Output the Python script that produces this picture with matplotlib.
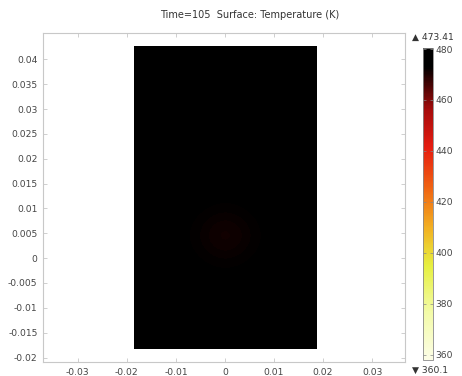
import numpy as np
import matplotlib
matplotlib.use('Agg')
import matplotlib.pyplot as plt
from matplotlib.colors import LinearSegmentedColormap

# surface temperature (K) on a coarse grid over the domain
# rows go bottom -> top, columns left -> right
temp_grid = [
    [473.4, 473.4, 473.4, 473.4, 473.4, 473.4, 473.4],
    [473.4, 473.4, 473.4, 473.4, 473.4, 473.4, 473.4],
    [473.4, 473.4, 473.4, 473.4, 473.4, 473.4, 473.4],
    [473.4, 473.4, 473.0, 472.4, 473.0, 473.4, 473.4],
    [473.4, 473.4, 472.2, 469.8, 472.2, 473.4, 473.4],
    [473.4, 473.4, 473.0, 472.4, 473.0, 473.4, 473.4],
    [473.4, 473.4, 473.4, 473.4, 473.4, 473.4, 473.4],
    [473.4, 473.4, 473.4, 473.4, 473.4, 473.4, 473.4],
    [473.4, 473.4, 473.4, 473.4, 473.4, 473.4, 473.4],
    [473.4, 473.4, 473.4, 473.4, 473.4, 473.4, 473.4],
    [473.4, 473.4, 473.4, 473.4, 473.4, 473.4, 473.4],
    [473.4, 473.4, 473.4, 473.4, 473.4, 473.4, 473.4],
]
domain_x = [-0.0186, 0.0186]
domain_y = [-0.0182, 0.0427]

t_max = '473.41'
t_min = '360.1'
cbar_ticks = [360, 380, 400, 420, 440, 460, 480]
x_ticks = [-0.03, -0.02, -0.01, 0, 0.01, 0.02, 0.03]
x_labels = ['-0.03', '-0.02', '-0.01', '0', '0.01', '0.02', '0.03']
y_ticks = [0.04, 0.035, 0.03, 0.025, 0.02, 0.015, 0.01, 0.005, 0, -0.005, -0.01, -0.015, -0.02]
y_labels = ['0.04', '0.035', '0.03', '0.025', '0.02', '0.015', '0.01', '0.005', '0',
            '-0.005', '-0.01', '-0.015', '-0.02']

heat = LinearSegmentedColormap.from_list('heat_r', [
    (0.00, '#fcfde6'),
    (0.15, '#f3fba8'),
    (0.30, '#e6f040'),
    (0.42, '#f2b222'),
    (0.55, '#f06412'),
    (0.68, '#e61c10'),
    (0.80, '#a80c0c'),
    (0.88, '#4a0404'),
    (0.94, '#000000'),
    (1.00, '#000000'),
])

fig = plt.figure(figsize=(4.62, 3.76), dpi=100)
ax = fig.add_axes([43/462, 1-362/376, 362/462, 329/376])

im = ax.imshow(np.array(temp_grid), origin='lower', cmap=heat, vmin=358, vmax=480.4,
               extent=[domain_x[0], domain_x[1], domain_y[0], domain_y[1]],
               interpolation='bicubic', aspect='auto')
ax.set_xlim(-0.0371, 0.0367)
ax.set_ylim(-0.0209, 0.0453)

ax.set_xticks(x_ticks)
ax.set_xticklabels(x_labels)
ax.set_yticks(y_ticks)
ax.set_yticklabels(y_labels)
ax.tick_params(direction='in', length=3, width=0.6, color='#c8c8c8',
               labelsize=6.6, labelcolor='#444444', top=True, right=True, pad=4)
for s in ax.spines.values():
    s.set_color('#c8c8c8')
    s.set_linewidth(0.8)

cax = fig.add_axes([423/462, 1-360/376, 10/462, 312/376])
cb = fig.colorbar(im, cax=cax, ticks=cbar_ticks)
cb.outline.set_edgecolor('#888888')
cb.outline.set_linewidth(0.6)
cax.tick_params(labelsize=6.6, labelcolor='#444444', length=2, width=0.5,
                color='#888888', direction='in', left=True, pad=2)

fig.text(250/462, 1-15/376, 'Time=105  Surface: Temperature (K)', ha='center', va='center',
         fontsize=7, color='#333333')
fig.text(412/462, 1-37/376, '\u25b2 ' + t_max, ha='left', va='center', fontsize=6.6, color='#333333')
fig.text(412/462, 1-370/376, '\u25bc ' + t_min, ha='left', va='center', fontsize=6.6, color='#333333')

fig.savefig('out.png', dpi=100)
